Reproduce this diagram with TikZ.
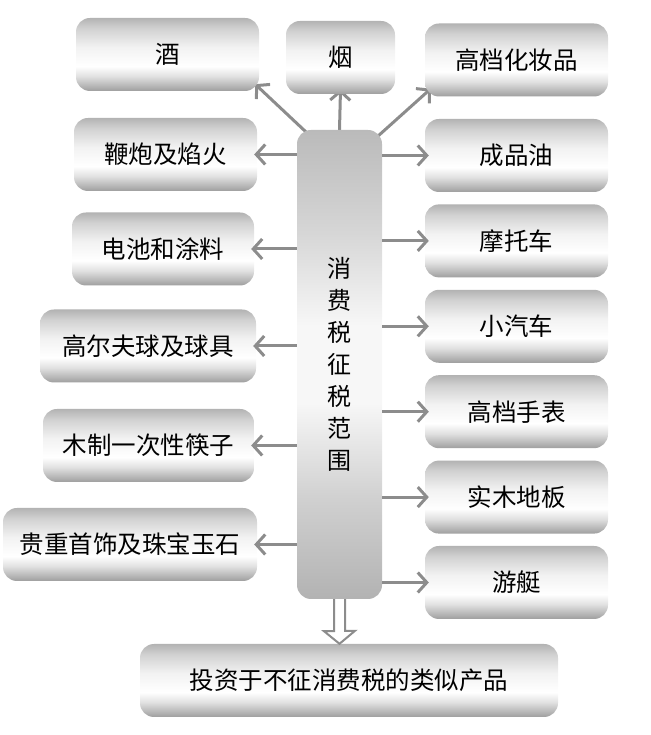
\documentclass[tikz,border=0pt]{standalone}
\usepackage{fontspec}
\newfontfamily\cjk{Noto Sans CJK SC}
\usetikzlibrary{arrows.meta,positioning,backgrounds}
\definecolor{linegray}{HTML}{8C8C8C}
\pgfdeclareverticalshading{itemshade}{100bp}{color(0bp)=(black!38); color(25bp)=(black!38); color(28bp)=(black!30); color(35bp)=(black!12); color(42bp)=(white); color(55bp)=(black!5); color(68bp)=(black!18); color(75bp)=(black!30); color(100bp)=(black!30)}
\pgfdeclareverticalshading{scopeshade}{100bp}{color(0bp)=(black!30); color(25bp)=(black!30); color(36bp)=(black!18); color(46bp)=(black!3); color(54bp)=(black!3); color(64bp)=(black!16); color(75bp)=(black!27); color(100bp)=(black!27)}
\tikzset{item/.style={shading=itemshade, rounded corners=14pt, minimum width=183pt, minimum height=73pt, inner sep=0pt, font=\cjk\fontsize{24.5}{29}\selectfont},
  link/.style={draw=linegray, line width=3pt, -{Straight Barb[length=9pt, width=20pt]}}}

\begin{document}
\begin{tikzpicture}[x=1pt, y=1pt]
    \useasboundingbox (0,0) rectangle (650,735);
    \node[item, shading=scopeshade, minimum width=85pt, minimum height=469pt, text width=85pt, align=center, font=\cjk\fontsize{24}{32}\selectfont] (scope) at (339.5,370.5) {消\\费\\税\\征\\税\\范\\围};
    % top row
    \node[item] (wine) at (167.5,680.5) {酒};
    \node[item, minimum width=109pt] (tobacco) at (340.5,677.5) {烟};
    \node[item] (cosmetic) at (516.5,675) {高档化妆品};
    % left column
    \node[item] (firework) at (165.5,580.5) {鞭炮及焰火};
    \node[item, minimum width=182pt] (battery) at (163,486) {电池和涂料};
    \node[item, minimum width=216pt] (golf) at (148,389) {高尔夫球及球具};
    \node[item, minimum width=211pt] (chopstick) at (148.5,289.5) {木制一次性筷子};
    \node[item, minimum width=254pt] (jewel) at (130,190.5) {贵重首饰及珠宝玉石};
    % right column
    \node[item] (oil) at (516.5,579.5) {成品油};
    \node[item, below=12pt of oil] (moto) {摩托车};
    \node[item, below=12pt of moto] (car) {小汽车};
    \node[item, below=12pt of car] (watch) {高档手表};
    \node[item, below=12pt of watch] (floor) {实木地板};
    \node[item, below=12pt of floor] (yacht) {游艇};
    % bottom
    \node[item, minimum width=418pt] (similar) at (349,54.5) {投资于不征消费税的类似产品};
    \begin{scope}[on background layer]
      \draw[link] ([shift={(9pt,-2pt)}]scope.north west) -- ([shift={(-4pt,7pt)}]wine.south east);
      \draw[link] (scope.north) -- ([yshift=5pt]tobacco.south);
      \draw[link] ([shift={(-5pt,-7pt)}]scope.north east) -- ([shift={(6pt,8pt)}]cosmetic.south west);
    \end{scope}
    \foreach \t in {firework, battery, golf, chopstick, jewel}
      \draw[link] (scope.west |- \t.east) -- ([xshift=-3pt]\t.east);
    \foreach \t in {oil, moto, car, watch, floor, yacht}
      \draw[link] (scope.east |- \t.west) -- ([xshift=4pt]\t.west);
    \draw[linegray, line width=2pt, fill=white] ([xshift=-5.5pt]scope.south) -- ++(0,-32) -- ++(-10,0) -- (scope.south |- similar.north) -- ++(15.5,13) -- ++(-10,0) -- ([xshift=5.5pt]scope.south);
\end{tikzpicture}
\end{document}
